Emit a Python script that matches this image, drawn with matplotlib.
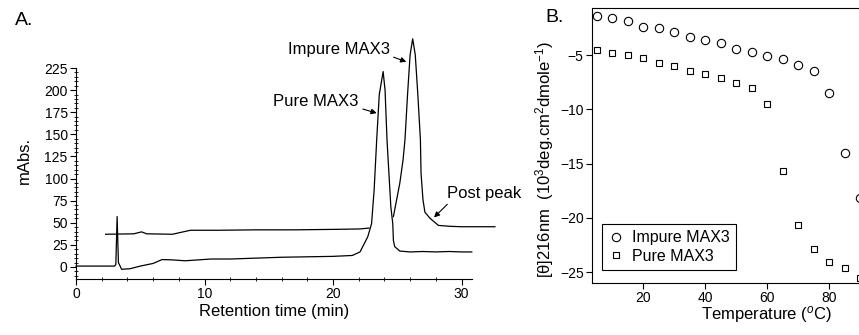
import numpy as np
import matplotlib
matplotlib.use('Agg')
import matplotlib.pyplot as plt
from matplotlib.ticker import MultipleLocator

plt.rcParams['font.family'] = 'Liberation Sans'
plt.rcParams['mathtext.fontset'] = 'custom'
plt.rcParams['mathtext.rm'] = 'Liberation Sans'
plt.rcParams['mathtext.it'] = 'Liberation Sans:italic'

# Panel A: HPLC traces
pureTime = [0, 3.0, 3.1, 3.2, 3.3, 3.55, 4.2, 5.0, 6.0, 6.7, 7.5, 8.5, 9.5, 10.5, 12, 14, 16, 18, 20,
            21.5, 22.1, 22.7, 23.0, 23.2, 23.4, 23.6, 23.9, 24.05, 24.2, 24.35, 24.5, 24.65, 24.7, 24.8,
            25.2, 26, 27, 28, 29, 30, 30.8]
pureAbs = [1, 1, 3, 57, 5, -2.6, -2, 1, 4, 8.4, 8, 7, 8, 9, 9, 10, 11, 11.5, 12,
           13, 17, 34, 49, 87, 144, 195, 221, 200, 144, 106, 68, 49, 30, 23,
           18, 17, 17.5, 17, 17.5, 17, 17]

impureTime = [2.3, 4.5, 5.1, 5.5, 7.5, 8.9, 11, 14, 17, 20, 22.1, 22.8, np.nan,
              24.7, 24.95, 25.2, 25.45, 25.6, 25.8, 26.0, 26.2, 26.4, 26.6, 26.8, 26.85, 27.0, 27.15,
              27.55, 28.2, 29.1, 30, 31, 32.6]
impureAbs = [37, 37.5, 39.7, 37.5, 37, 41.5, 41.5, 42, 42, 42.5, 43, 44, np.nan,
             57, 76, 95, 121, 144, 195, 240, 258, 240, 195, 144, 106, 76, 62,
             55, 47, 46, 45.5, 45.5, 45.5]

# Panel B: CD signal vs temperature
temperature = [5, 10, 15, 20, 25, 30, 35, 40, 45, 50, 55, 60, 65, 70, 75, 80, 85, 90]
impureTheta = [-1.4, -1.6, -1.85, -2.4, -2.55, -2.9, -3.3, -3.6, -3.85, -4.45, -4.75, -5.1,
               -5.35, -5.9, -6.5, -8.5, -14.05, -18.2]
pureTheta = [-4.5, -4.8, -5.0, -5.3, -5.7, -6.0, -6.45, -6.75, -7.1, -7.6, -8.05, -9.5,
             -15.7, -20.7, -22.9, -24.1, -24.65, -25.55]

W, H = 859, 335
fig = plt.figure(figsize=(W / 100, H / 100), dpi=100)

# ---- panel A
axA = fig.add_axes([76 / W, 56 / H, 395.8 / W, 211 / H])
axA.plot(pureTime, pureAbs, color='black', lw=0.9, clip_on=False)
axA.plot(impureTime, impureAbs, color='black', lw=0.9, clip_on=False)
axA.set_xlim(0, 30.8)
axA.set_ylim(-13.6, 225)
axA.spines['top'].set_visible(False)
axA.spines['right'].set_visible(False)
axA.xaxis.set_major_locator(MultipleLocator(10))
axA.xaxis.set_minor_locator(MultipleLocator(2))
axA.yaxis.set_major_locator(MultipleLocator(25))
axA.yaxis.set_minor_locator(MultipleLocator(5))
axA.set_yticks(np.arange(0, 226, 25))
axA.tick_params(which='major', direction='out', length=4, width=0.8, labelsize=10, pad=2)
axA.tick_params(which='minor', direction='inout', length=3, width=0.6)
axA.set_xlabel('Retention time (min)', fontsize=12, labelpad=2)
axA.set_ylabel('mAbs.', fontsize=12)
axA.yaxis.set_label_coords(-0.112, 0.56)

arrowStyle = dict(arrowstyle='-|>', color='black', lw=0.8, mutation_scale=8, shrinkA=1, shrinkB=0)
axA.annotate('Impure MAX3', xy=(25.7, 232), xytext=(24.4, 245.7), ha='right', va='center',
             fontsize=12, annotation_clip=False,
             arrowprops=dict(relpos=(1.0, 0.1), **arrowStyle))
axA.annotate('Pure MAX3', xy=(23.4, 174), xytext=(22.0, 186.7), ha='right', va='center',
             fontsize=12, annotation_clip=False,
             arrowprops=dict(relpos=(1.0, 0.1), **arrowStyle))
axA.annotate('Post peak', xy=(27.86, 56), xytext=(28.9, 83.6), ha='left', va='center',
             fontsize=12, annotation_clip=False,
             arrowprops=dict(relpos=(0.05, 0.0), **arrowStyle))

fig.text(15 / W, 1 - 12 / H, 'A.', fontsize=14, va='top', ha='left')

# ---- panel B
axB = fig.add_axes([592 / W, 52 / H, 290 / W, 275 / H])
axB.plot(temperature, impureTheta, 'o', mfc='white', mec='black', ms=6, mew=0.8,
         ls='none', label='Impure MAX3', clip_on=False)
axB.plot(temperature, pureTheta, 's', mfc='white', mec='black', ms=4.5, mew=0.8,
         ls='none', label='Pure MAX3', clip_on=False)
axB.set_xlim(3.5, 97)
axB.set_ylim(-26.0, -0.67)
axB.set_xticks([20, 40, 60, 80])
axB.set_yticks([-5, -10, -15, -20, -25])
axB.set_yticklabels(['\u22125', '\u221210', '\u221215', '\u221220', '\u221225'])
axB.tick_params(direction='out', length=4, width=0.8, labelsize=10, pad=2)
axB.set_xlabel('Temperature ($^{o}$C)', fontsize=12)
axB.xaxis.set_label_coords(0.6, -0.075)
axB.set_ylabel('[\u03b8]216nm  (10$^{3}$deg.cm$^{2}$dmole$^{-1}$)', fontsize=12)
axB.yaxis.set_label_coords(-0.125, 0.45)
leg = axB.legend(loc='lower left', bbox_to_anchor=(0.034, 0.047), borderaxespad=0,
                 fontsize=11.5, fancybox=False, edgecolor='black', framealpha=1,
                 handlelength=1.0, handletextpad=0.5, borderpad=0.4, labelspacing=0.2)
leg.get_frame().set_linewidth(0.8)

fig.text(545 / W, 1 - 9 / H, 'B.', fontsize=14, va='top', ha='left')

fig.savefig('out.png', dpi=100)
